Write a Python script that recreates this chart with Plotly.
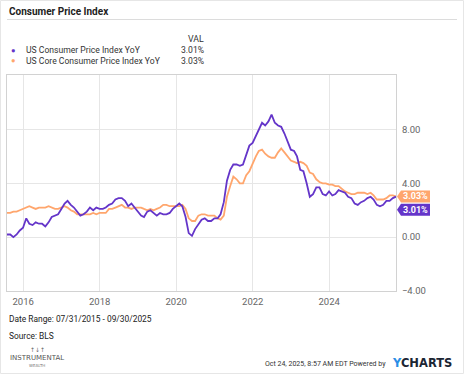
import pandas as pd
import plotly.graph_objects as go

# ---------------- data ----------------
dates = pd.date_range("2015-07-31", "2025-09-30", freq="ME")

cpi_yoy = [
    0.2, 0.2, -0.0, 0.2, 0.5, 0.7,
    1.4, 1.0, 0.9, 1.1, 1.0, 1.0, 0.8, 1.1, 1.5, 1.6, 1.7, 2.1,
    2.5, 2.7, 2.4, 2.2, 1.9, 1.6, 1.7, 1.9, 2.2, 2.0, 2.2, 2.1,
    2.1, 2.2, 2.4, 2.5, 2.8, 2.9, 2.9, 2.7, 2.3, 2.5, 2.2, 1.9,
    1.6, 1.5, 1.9, 2.0, 1.8, 1.6, 1.8, 1.7, 1.7, 1.8, 2.1, 2.3,
    2.5, 2.3, 1.5, 0.3, 0.1, 0.6, 1.0, 1.3, 1.4, 1.2, 1.2, 1.4,
    1.4, 1.7, 2.6, 4.2, 5.0, 5.4, 5.4, 5.3, 5.4, 6.2, 6.8, 7.0,
    7.5, 7.9, 8.5, 8.3, 8.6, 9.1, 8.5, 8.3, 8.2, 7.7, 7.1, 6.5,
    6.4, 6.0, 5.0, 4.9, 4.0, 3.0, 3.2, 3.7, 3.7, 3.2, 3.1, 3.4,
    3.1, 3.2, 3.5, 3.4, 3.3, 3.0, 2.9, 2.5, 2.4, 2.6, 2.7, 2.9,
    3.0, 2.8, 2.4, 2.3, 2.4, 2.7, 2.7, 2.9, 3.01,
]
core_yoy = [
    1.8, 1.8, 1.9, 1.9, 2.0, 2.1,
    2.2, 2.3, 2.2, 2.1, 2.2, 2.2, 2.2, 2.3, 2.2, 2.1, 2.1, 2.2,
    2.3, 2.2, 2.0, 1.9, 1.7, 1.7, 1.7, 1.7, 1.7, 1.8, 1.7, 1.8,
    1.8, 1.8, 2.1, 2.1, 2.2, 2.3, 2.4, 2.2, 2.2, 2.1, 2.2, 2.2,
    2.2, 2.1, 2.0, 2.1, 2.0, 2.1, 2.2, 2.4, 2.4, 2.3, 2.3, 2.3,
    2.3, 2.4, 2.1, 1.4, 1.2, 1.2, 1.6, 1.7, 1.7, 1.6, 1.6, 1.6,
    1.4, 1.3, 1.6, 3.0, 3.8, 4.5, 4.3, 4.0, 4.0, 4.6, 4.9, 5.5,
    6.0, 6.4, 6.5, 6.2, 6.0, 5.9, 5.9, 6.3, 6.6, 6.3, 6.0, 5.7,
    5.6, 5.5, 5.6, 5.5, 5.3, 4.8, 4.7, 4.3, 4.1, 4.0, 4.0, 3.9,
    3.9, 3.8, 3.8, 3.6, 3.4, 3.3, 3.2, 3.2, 3.3, 3.3, 3.3, 3.2,
    3.3, 3.1, 2.8, 2.8, 2.8, 2.9, 3.1, 3.1, 3.03,
]
series_names = ["US Consumer Price Index YoY", "US Core Consumer Price Index YoY"]
y_ticks = [-4, 0, 4, 8]
x_ticks = ["2016-01-01", "2018-01-01", "2020-01-01", "2022-01-01", "2024-01-01"]

PURPLE = "#6435c9"
ORANGE = "#ffa66d"
FONT = "Roboto"

# ---------------- geometry helpers ----------------
W, H = 464, 374
L, R, T, B = 7, 396, 75, 291


def px(x):
    return (x - L) / (R - L)


def py(y):
    return (B - y) / (B - T)


fig = go.Figure()
fig.add_trace(go.Scatter(x=dates, y=core_yoy, mode="lines", name=series_names[1],
                         line=dict(color=ORANGE, width=1.8)))
fig.add_trace(go.Scatter(x=dates, y=cpi_yoy, mode="lines", name=series_names[0],
                         line=dict(color=PURPLE, width=1.8)))

fig.update_layout(
    width=W, height=H,
    margin=dict(l=L, r=W - R, t=T, b=H - B, pad=0),
    paper_bgcolor="white", plot_bgcolor="white",
    showlegend=False,
    font=dict(family=FONT, size=9.5, color="#666"),
    xaxis=dict(type="date", range=["2015-07-31", "2025-09-30"],
               tickvals=x_ticks, tickformat="%Y",
               showgrid=True, gridcolor="#e6e6e6", gridwidth=1,
               showline=True, linecolor="#d2d2d2", mirror=True, linewidth=1,
               ticks="", ticklabelstandoff=2,
               tickfont=dict(size=9.5, color="#666"), zeroline=False),
    yaxis=dict(side="right", range=[-4, 12.05], tickvals=y_ticks,
               tickformat=".2f", ticksuffix="%",
               showgrid=True, gridcolor="#e6e6e6", gridwidth=1,
               showline=True, linecolor="#d2d2d2", mirror=True, linewidth=1,
               ticks="", ticklabelstandoff=3,
               tickfont=dict(size=9.5, color="#666"), zeroline=False),
)

ann = []
shapes = []

# title + rule + border
ann.append(dict(xref="paper", yref="paper", x=px(7), y=py(12), xanchor="left", yanchor="middle",
                text="<b>Consumer Price Index</b>", showarrow=False,
                font=dict(family=FONT, size=10, color="#222")))
shapes.append(dict(type="line", xref="paper", yref="paper", x0=px(7), x1=px(457), y0=py(19.5), y1=py(19.5),
                   line=dict(color="#dcdcdc", width=1)))
shapes.append(dict(type="rect", xref="paper", yref="paper", x0=px(0.5), x1=px(463.5), y0=py(0.5), y1=py(373.5),
                   line=dict(color="#e6e6e6", width=1)))

# legend table
ann.append(dict(xref="paper", yref="paper", x=px(206), y=py(39), xanchor="right", yanchor="middle",
                text="VAL", showarrow=False, font=dict(family=FONT, size=8.8, color="#333")))
rows = [(series_names[0], PURPLE, cpi_yoy[-1], 50), (series_names[1], ORANGE, core_yoy[-1], 61)]
for name, col, val, yy in rows:
    ann.append(dict(xref="paper", yref="paper", x=px(13), y=py(yy), xanchor="center", yanchor="middle",
                    text="●", showarrow=False, font=dict(family=FONT, size=7.5, color=col)))
    ann.append(dict(xref="paper", yref="paper", x=px(24), y=py(yy), xanchor="left", yanchor="middle",
                    text=name, showarrow=False, font=dict(family=FONT, size=8.6, color="#333")))
    ann.append(dict(xref="paper", yref="paper", x=px(206), y=py(yy), xanchor="right", yanchor="middle",
                    text=f"{val:.2f}%", showarrow=False, font=dict(family=FONT, size=8.6, color="#333")))

# end-value flags
flags = [(core_yoy[-1], ORANGE, 0), (cpi_yoy[-1], PURPLE, -13)]
for val, col, off in flags:
    shapes.append(dict(type="path", xref="paper", yref="y", xsizemode="pixel", ysizemode="pixel",
                       xanchor=1, yanchor=val,
                       path=f"M 1,{off} L 5,{off + 6} L 34,{off + 6} L 34,{off - 6} L 5,{off - 6} Z",
                       fillcolor=col, line=dict(width=0), layer="above"))
    ann.append(dict(xref="paper", yref="y", x=1, y=val, xanchor="center", yanchor="middle",
                    xshift=19.5, yshift=off, text=f"<b>{val:.2f}%</b>", showarrow=False,
                    font=dict(family=FONT, size=9, color="white")))

# footer
ann.append(dict(xref="paper", yref="paper", x=px(7), y=py(319), xanchor="left", yanchor="middle",
                text="Date Range: 07/31/2015 - 09/30/2025", showarrow=False,
                font=dict(family=FONT, size=8.4, color="#222")))
ann.append(dict(xref="paper", yref="paper", x=px(7), y=py(336), xanchor="left", yanchor="middle",
                text="Source: BLS", showarrow=False, font=dict(family=FONT, size=8.4, color="#222")))
ann.append(dict(xref="paper", yref="paper", x=px(37), y=py(349), xanchor="center", yanchor="middle",
                text="↑↓↑", showarrow=False, font=dict(family="DejaVu Sans", size=6, color="#666")))
ann.append(dict(xref="paper", yref="paper", x=px(37), y=py(358), xanchor="center", yanchor="middle",
                text="INSTRUMENTAL", showarrow=False, font=dict(family="DejaVu Sans", size=7, color="#555")))
ann.append(dict(xref="paper", yref="paper", x=px(37), y=py(365), xanchor="center", yanchor="middle",
                text="WEALTH", showarrow=False, font=dict(family="DejaVu Sans", size=4, color="#777")))
ann.append(dict(xref="paper", yref="paper", x=px(388), y=py(364), xanchor="right", yanchor="middle",
                text="Oct 24, 2025, 8:57 AM EDT Powered by", showarrow=False,
                font=dict(family=FONT, size=7, color="#333")))
ann.append(dict(xref="paper", yref="paper", x=px(390), y=py(363), xanchor="left", yanchor="middle",
                text="<b><span style='color:#2a8de6'>Y</span>CHARTS</b>", showarrow=False,
                font=dict(family="DejaVu Sans", size=11.5, color="#1b2533")))

fig.update_layout(annotations=ann, shapes=shapes)
fig.write_html("out.html", config={"displayModeBar": False},
               post_script="document.body.style.margin='0px';document.body.style.overflow='hidden';")
